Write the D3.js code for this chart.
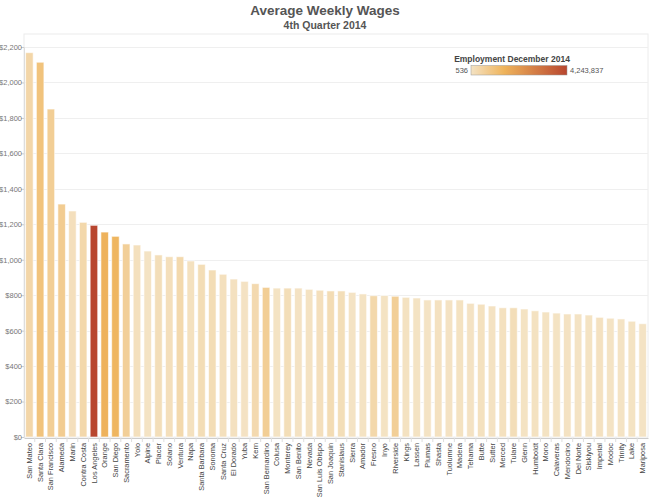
<!DOCTYPE html>
<html><head><meta charset="utf-8">
<script src="https://cdn.jsdelivr.net/npm/d3@7"></script>
<style>body{margin:0;background:#fff;font-family:Arial,"Liberation Sans",sans-serif;}</style>
</head><body><svg id="c" width="650" height="500"></svg>
<script>
const counties = ["San Mateo","Santa Clara","San Francisco","Alameda","Marin","Contra Costa","Los Angeles","Orange","San Diego","Sacramento","Yolo","Alpine","Placer","Solano","Ventura","Napa","Santa Barbara","Sonoma","Santa Cruz","El Dorado","Yuba","Kern","San Bernardino","Colusa","Monterey","San Benito","Nevada","San Luis Obispo","San Joaquin","Stanislaus","Sierra","Amador","Fresno","Inyo","Riverside","Kings","Lassen","Plumas","Shasta","Tuolumne","Madera","Tehama","Butte","Sutter","Merced","Tulare","Glenn","Humboldt","Mono","Calaveras","Mendocino","Del Norte","Siskiyou","Imperial","Modoc","Trinity","Lake","Mariposa"];
const wages = [2168,2114,1850,1314,1275,1211,1194,1156,1132,1089,1083,1049,1027,1017,1017,993,974,942,918,891,878,865,844,840,840,840,833,828,824,824,816,807,797,798,794,788,784,773,773,773,773,754,749,739,729,729,722,712,705,699,694,694,688,675,670,666,653,639];
const employment = [390000,1000000,660000,715000,115000,345000,4243837,1506000,1390000,610000,98000,1100,150000,130000,315000,72000,190000,195000,95000,55000,18000,300000,660000,9000,165000,16000,35000,110000,220000,165000,536,12000,345000,8000,630000,40000,8000,6000,60000,17000,40000,17000,75000,30000,70000,150000,8000,45000,9000,10000,30000,7000,13000,55000,2500,3000,15000,5000];
const yTicks = [0,200,400,600,800,1000,1200,1400,1600,1800,2000,2200];
const empMin = 536, empMax = 4243837;

const svg = d3.select("#c");
const L = 24, R = 648, T = 34, B = 437;
const x = d3.scaleBand().domain(counties).range([L, R]).paddingInner(0.3).paddingOuter(0.15);
const y = d3.scaleLinear().domain([0, 2200]).range([B, 47]);
const color = d3.scaleLinear().domain([empMin, 1450000, empMax]).range(["#f4e3c4", "#efb45c", "#b8462f"]).interpolate(d3.interpolateRgb).clamp(true);

// title
svg.append("text").attr("x", 325).attr("y", 15).attr("text-anchor", "middle")
  .style("font-size", "13.5px").style("font-weight", "bold").style("fill", "#555").text("Average Weekly Wages");
svg.append("text").attr("x", 325).attr("y", 29).attr("text-anchor", "middle")
  .style("font-size", "10.5px").style("font-weight", "bold").style("fill", "#555").text("4th Quarter 2014");

// frame
svg.append("rect").attr("x", L).attr("y", T).attr("width", R - L).attr("height", B - T)
  .attr("fill", "none").attr("stroke", "#ececec");

// grid
svg.append("g").selectAll("line").data(yTicks).join("line")
  .attr("x1", L).attr("x2", R).attr("y1", d => Math.round(y(d)) + 0.5).attr("y2", d => Math.round(y(d)) + 0.5)
  .attr("stroke", "#efefef");

// y axis
const yAxis = d3.axisLeft(y).tickValues(yTicks).tickSize(3).tickFormat(d => "$" + d3.format(",")(d));
const gy = svg.append("g").attr("transform", `translate(${L},0)`).call(yAxis);
gy.select(".domain").attr("stroke", "#ddd");
gy.selectAll(".tick line").attr("stroke", "#ccc");
gy.selectAll(".tick text").style("font-size", "7.5px").style("fill", "#777").attr("x", -2).style("font-family", "Arial, 'Liberation Sans', sans-serif");

// bars
svg.append("g").selectAll("rect").data(counties).join("rect")
  .attr("x", d => x(d)).attr("width", x.bandwidth())
  .attr("y", (d, i) => y(wages[i])).attr("height", (d, i) => B - y(wages[i]))
  .attr("fill", (d, i) => color(employment[i]))
  .attr("stroke", "rgba(255,255,255,0.6)").attr("stroke-width", 1);

// x axis
const xAxis = d3.axisBottom(x).tickSize(0);
const gx = svg.append("g").attr("transform", `translate(0,${B + 1})`).call(xAxis);
gx.select(".domain").attr("stroke", "#ccc");
gx.selectAll(".tick text").attr("transform", "rotate(-90)").attr("text-anchor", "end")
  .attr("x", -5).attr("y", 0).attr("dy", "0.35em")
  .style("font-size", "7.4px").style("fill", "#444").style("font-family", "Arial, 'Liberation Sans', sans-serif");
// separators
gx.append("g").selectAll("line").data(counties.slice(1)).join("line")
  .attr("x1", d => x(d) - x.step() * x.paddingInner() / 2).attr("x2", d => x(d) - x.step() * x.paddingInner() / 2)
  .attr("y1", 0).attr("y2", 4).attr("stroke", "#ddd");

// legend
const defs = svg.append("defs");
const grad = defs.append("linearGradient").attr("id", "lg");
d3.range(0, 1.0001, 0.05).forEach(t => {
  grad.append("stop").attr("offset", t).attr("stop-color", color(empMin + t * (empMax - empMin)));
});
svg.append("text").attr("x", 512).attr("y", 62).attr("text-anchor", "middle")
  .style("font-size", "8.5px").style("font-weight", "bold").style("fill", "#444").text("Employment December 2014");
svg.append("rect").attr("x", 471).attr("y", 65.5).attr("width", 96).attr("height", 9.5)
  .attr("fill", "url(#lg)").attr("stroke", "#999").attr("stroke-width", 0.5);
svg.append("text").attr("x", 468).attr("y", 73).attr("text-anchor", "end")
  .style("font-size", "7.5px").style("fill", "#555").text(d3.format(",")(empMin));
svg.append("text").attr("x", 570).attr("y", 73).attr("text-anchor", "start")
  .style("font-size", "7.5px").style("fill", "#555").text(d3.format(",")(empMax));
</script></body></html>
